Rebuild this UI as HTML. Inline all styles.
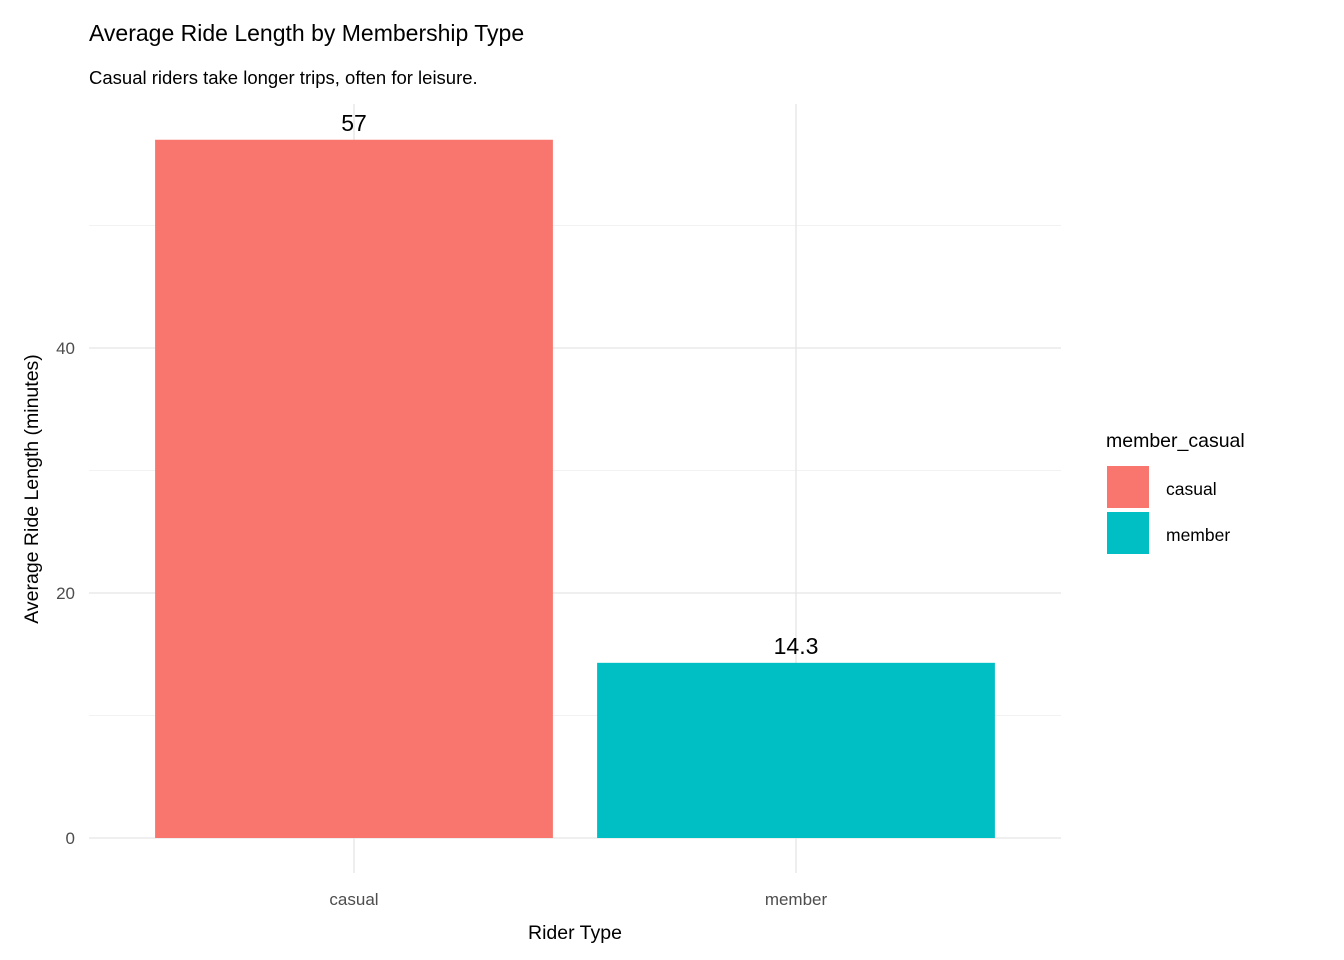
<!DOCTYPE html>
<html><head><meta charset="utf-8"><style>
html,body{margin:0;padding:0;background:#fff;}
svg{display:block;font-family:"Liberation Sans",Arial,sans-serif;}
</style></head><body>
<svg id="chart" width="1344" height="960" viewBox="0 0 1344 960">
<text x="89" y="41" font-size="23" fill="#000">Average Ride Length by Membership Type</text>
<text x="89" y="84" font-size="18.5" fill="#000">Casual riders take longer trips, often for leisure.</text>
<g id="grid"></g>
<g id="bars"></g>
<g id="yticks"></g>
<g id="xticks"></g>
<text x="575" y="939" font-size="19.5" text-anchor="middle" fill="#000">Rider Type</text>
<text transform="translate(38,489) rotate(-90)" font-size="19.5" text-anchor="middle" fill="#000">Average Ride Length (minutes)</text>
<g id="legend">
<text x="1106" y="447" font-size="19.5" fill="#000">member_casual</text>
</g>
</svg>
<script>
const categories = ["casual", "member"];
const values = [57, 14.3];
const valueLabels = ["57", "14.3"];
const colors = ["#F8766D", "#00BFC4"];
const yTicks = [0, 20, 40];
const yMinor = [10, 30, 50];

const NS = "http://www.w3.org/2000/svg";
const panel = {x0: 89, x1: 1061, y0: 104, y1: 873};
const yBase = 838, yPer = 12.25;
function y(v){ return yBase - v * yPer; }
const xUnit = 442, xFirst = 354;
function x(i){ return xFirst + i * xUnit; }
function mk(tag, attrs, parent){
  const el = document.createElementNS(NS, tag);
  for (const k in attrs) el.setAttribute(k, attrs[k]);
  parent.appendChild(el);
  return el;
}
const grid = document.getElementById("grid");
yMinor.forEach(v => {
  const l = mk("line", {x1: panel.x0, x2: panel.x1, y1: y(v), y2: y(v), stroke: "#f2f2f2", "stroke-width": 1}, grid);
  
  
});
yTicks.forEach(v => {
  const l = mk("line", {x1: panel.x0, x2: panel.x1, y1: y(v), y2: y(v), stroke: "#e5e5e5", "stroke-width": 1.3}, grid);
  
  
});
categories.forEach((c, i) => {
  const l = mk("line", {x1: x(i), x2: x(i), y1: panel.y0, y2: panel.y1, stroke: "#e5e5e5", "stroke-width": 1.3}, grid);
  
  
});
const bars = document.getElementById("bars");
const bw = 0.9 * xUnit;
categories.forEach((c, i) => {
  const r = mk("rect", {x: x(i) - bw/2, y: y(values[i]), width: bw, height: y(0) - y(values[i]), fill: colors[i]}, bars);
  
  
  const t = mk("text", {x: x(i), y: y(values[i]) - 9, "font-size": 23, "text-anchor": "middle", fill: "#000"}, bars);
  t.textContent = valueLabels[i];
  
  
});
const yt = document.getElementById("yticks");
yTicks.forEach(v => {
  const t = mk("text", {x: 75, y: y(v) + 6, "font-size": 17, "text-anchor": "end", fill: "#4d4d4d"}, yt);
  t.textContent = v;
  
  
});
const xt = document.getElementById("xticks");
categories.forEach((c, i) => {
  const t = mk("text", {x: x(i), y: 905, "font-size": 17, "text-anchor": "middle", fill: "#4d4d4d"}, xt);
  t.textContent = c;
  
  
});
const lg = document.getElementById("legend");
categories.forEach((c, i) => {
  const top = 466 + i * 46;
  const r = mk("rect", {x: 1107, y: top, width: 42, height: 42, fill: colors[i]}, lg);
  
  
  const t = mk("text", {x: 1166, y: top + 29, "font-size": 17.5, fill: "#000"}, lg);
  t.textContent = c;
  
  
});
</script>
</body></html>
